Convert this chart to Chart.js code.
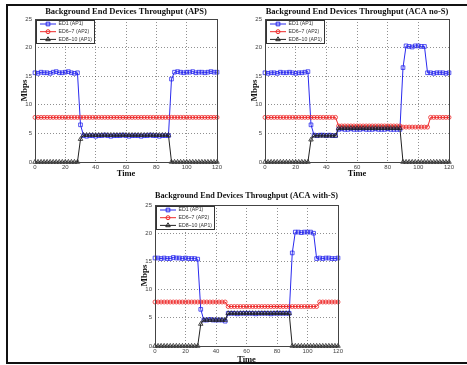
<!DOCTYPE html>
<html>
<head>
<meta charset="utf-8">
<script src="https://cdn.jsdelivr.net/npm/chart.js@4.4.1/dist/chart.umd.min.js"></script>
<style>
  html, body { margin: 0; padding: 0; background: #fff; overflow: hidden; }
  #page { position: relative; width: 467px; height: 365px; }
  #frame {
    position: absolute; left: 6px; top: 4px; width: 461px; height: 360px;
    box-sizing: border-box;
    border-left: 2px solid #111; border-top: 2px solid #111; border-bottom: 2px solid #111;
  }
  canvas { position: absolute; }
</style>
</head>
<body>
<div id="page">
  <div id="frame"></div>
  <canvas id="aps" width="224" height="174" style="left:8px;top:6px"></canvas>
  <canvas id="nos" width="224" height="174" style="left:238px;top:6px"></canvas>
  <canvas id="wis" width="224" height="178" style="left:128px;top:186px"></canvas>
</div>
<script>
// time axis (s)
const TIME = [0, 2, 4, 6, 8, 10, 12, 14, 16, 18, 20, 22, 24, 26, 28, 30, 32, 34, 36, 38,
  40, 42, 44, 46, 48, 50, 52, 54, 56, 58, 60, 62, 64, 66, 68, 70, 72, 74, 76, 78,
  80, 82, 84, 86, 88, 90, 92, 94, 96, 98, 100, 102, 104, 106, 108, 110, 112, 114, 116, 118, 120];

const LABELS = ["ED1 (AP1)", "ED6~7 (AP2)", "ED8~10 (AP1)"];
const X_TICKS = [0, 20, 40, 60, 80, 100, 120];
const Y_TICKS = [0, 5, 10, 15, 20, 25];

// APS
const APS_ED1 = [15.6, 15.5, 15.7, 15.6, 15.6, 15.5, 15.7, 15.8, 15.6, 15.6, 15.7, 15.8, 15.6, 15.5, 15.6,
  6.5,
  4.6, 4.5, 4.6, 4.6, 4.5, 4.6, 4.6, 4.7, 4.6, 4.5, 4.6, 4.6, 4.6, 4.7, 4.6, 4.5, 4.6, 4.6, 4.6, 4.5,
  4.6, 4.6, 4.7, 4.6, 4.6, 4.5, 4.6, 4.6, 4.6,
  14.5,
  15.7, 15.8, 15.7, 15.6, 15.7, 15.7, 15.8, 15.6, 15.7, 15.7, 15.6, 15.7, 15.8, 15.7, 15.7];
const APS_ED67 = [7.8, 7.8, 7.8, 7.8, 7.8, 7.8, 7.8, 7.8, 7.8, 7.8,
  7.8, 7.8, 7.8, 7.8, 7.8, 7.8, 7.8, 7.8, 7.8, 7.8,
  7.8, 7.8, 7.8, 7.8, 7.8, 7.8, 7.8, 7.8, 7.8, 7.8,
  7.8, 7.8, 7.8, 7.8, 7.8, 7.8, 7.8, 7.8, 7.8, 7.8,
  7.8, 7.8, 7.8, 7.8, 7.8, 7.8, 7.8, 7.8, 7.8, 7.8,
  7.8, 7.8, 7.8, 7.8, 7.8, 7.8, 7.8, 7.8, 7.8, 7.8, 7.8];
const APS_ED810 = [0, 0, 0, 0, 0, 0, 0, 0, 0, 0, 0, 0, 0, 0, 0,
  4.0,
  4.7, 4.7, 4.7, 4.7, 4.7, 4.7, 4.7, 4.7, 4.7, 4.7, 4.7, 4.7, 4.7, 4.7, 4.7, 4.7, 4.7, 4.7, 4.7, 4.7,
  4.7, 4.7, 4.7, 4.7, 4.7, 4.7, 4.7, 4.7, 4.7,
  0, 0, 0, 0, 0, 0, 0, 0, 0, 0, 0, 0, 0, 0, 0, 0];

// ACA no-S
const NOS_ED1 = [15.6, 15.5, 15.6, 15.6, 15.5, 15.7, 15.6, 15.6, 15.7, 15.6, 15.5, 15.6, 15.6, 15.7, 15.8,
  6.5,
  4.7, 4.6, 4.7, 4.7, 4.6, 4.7, 4.6, 4.6,
  5.7, 5.8, 5.7, 5.7, 5.8, 5.7, 5.7, 5.7, 5.8, 5.7, 5.7, 5.7, 5.8, 5.7, 5.7, 5.7, 5.8, 5.7, 5.7, 5.7, 5.7,
  16.5,
  20.3, 20.2, 20.1, 20.3, 20.3, 20.2, 20.2,
  15.6, 15.6, 15.5, 15.6, 15.6, 15.6, 15.5, 15.6];
const NOS_ED67 = [7.8, 7.8, 7.8, 7.8, 7.8, 7.8, 7.8, 7.8, 7.8, 7.8, 7.8, 7.8,
  7.8, 7.8, 7.8, 7.8, 7.8, 7.8, 7.8, 7.8, 7.8, 7.8, 7.8, 7.8,
  6.3, 6.3, 6.3, 6.3, 6.3, 6.3, 6.3, 6.3, 6.3, 6.3, 6.3, 6.3, 6.3, 6.3, 6.3, 6.3, 6.3, 6.3, 6.3, 6.3, 6.3,
  6.1, 6.1, 6.1, 6.1, 6.1, 6.1, 6.1, 6.1, 6.1,
  7.8, 7.8, 7.8, 7.8, 7.8, 7.8, 7.8];
const NOS_ED810 = [0, 0, 0, 0, 0, 0, 0, 0, 0, 0, 0, 0, 0, 0, 0,
  3.9,
  4.6, 4.6, 4.6, 4.6, 4.6, 4.6, 4.6, 4.6,
  5.9, 5.9, 5.9, 5.9, 5.9, 5.9, 5.9, 5.9, 5.9, 5.9, 5.9, 5.9, 5.9, 5.9, 5.9, 5.9, 5.9, 5.9, 5.9, 5.9, 5.9,
  0, 0, 0, 0, 0, 0, 0, 0, 0, 0, 0, 0, 0, 0, 0, 0];

// ACA with-S
const WIS_ED1 = [15.6, 15.6, 15.5, 15.6, 15.5, 15.5, 15.7, 15.6, 15.6, 15.5, 15.6, 15.5, 15.5, 15.5, 15.4,
  6.5,
  4.6, 4.6, 4.7, 4.6, 4.6, 4.6, 4.6, 4.4,
  5.8, 5.8, 5.8, 5.7, 5.8, 5.8, 5.8, 5.8, 5.8, 5.7, 5.8, 5.8, 5.8, 5.8, 5.7, 5.8, 5.8, 5.8, 5.8, 5.8, 5.8,
  16.5,
  20.2, 20.2, 20.1, 20.2, 20.2, 20.2, 20.0,
  15.5, 15.6, 15.5, 15.6, 15.6, 15.5, 15.5, 15.6];
const WIS_ED67 = [7.8, 7.8, 7.8, 7.8, 7.8, 7.8, 7.8, 7.8, 7.8, 7.8, 7.8, 7.8,
  7.8, 7.8, 7.8, 7.8, 7.8, 7.8, 7.8, 7.8, 7.8, 7.8, 7.8, 7.8,
  7.0, 7.0, 7.0, 7.0, 7.0, 7.0, 7.0, 7.0, 7.0, 7.0, 7.0, 7.0, 7.0, 7.0, 7.0,
  7.0, 7.0, 7.0, 7.0, 7.0, 7.0, 7.0, 7.0, 7.0, 7.0, 7.0, 7.0, 7.0, 7.0, 7.0,
  7.8, 7.8, 7.8, 7.8, 7.8, 7.8, 7.8];
const WIS_ED810 = [0, 0, 0, 0, 0, 0, 0, 0, 0, 0, 0, 0, 0, 0, 0,
  3.9,
  4.6, 4.6, 4.6, 4.6, 4.6, 4.6, 4.6, 4.6,
  5.8, 5.8, 5.8, 5.8, 5.8, 5.8, 5.8, 5.8, 5.8, 5.8, 5.8, 5.8, 5.8, 5.8, 5.8, 5.8, 5.8, 5.8, 5.8, 5.8, 5.8,
  0, 0, 0, 0, 0, 0, 0, 0, 0, 0, 0, 0, 0, 0, 0, 0];

function drawMarker(ctx, style, x, y, r) {
  ctx.beginPath();
  if (style === 'rect') {
    const s = r * Math.SQRT1_2;
    ctx.rect(x - s, y - s, 2 * s, 2 * s);
  } else if (style === 'triangle') {
    ctx.moveTo(x, y - r);
    ctx.lineTo(x + r * 0.866, y + r * 0.5);
    ctx.lineTo(x - r * 0.866, y + r * 0.5);
    ctx.closePath();
  } else {
    ctx.arc(x, y, r, 0, Math.PI * 2);
  }
  ctx.stroke();
}

// matlab style axes box + legend in the top left corner
const matlabBox = {
  id: 'matlabBox',
  afterDraw(chart) {
    const { ctx, chartArea: a } = chart;
    ctx.save();
    ctx.strokeStyle = '#444';
    ctx.lineWidth = 1;
    ctx.strokeRect(Math.round(a.left) + 0.5, Math.round(a.top) + 0.5,
      Math.round(a.right - a.left), Math.round(a.bottom - a.top));

    const x = Math.round(a.left) + 1, y = Math.round(a.top) + 1, w = 58, h = 23;
    ctx.fillStyle = '#fff';
    ctx.fillRect(x, y, w, h);
    ctx.strokeStyle = '#333';
    ctx.strokeRect(x + 0.5, y + 0.5, w, h);
    ctx.font = '5.2px "Liberation Sans", Arial, sans-serif';
    ctx.textBaseline = 'middle';
    chart.data.datasets.forEach((ds, i) => {
      const ry = y + 4 + i * 7.7;
      ctx.strokeStyle = ds.borderColor;
      ctx.lineWidth = 1;
      ctx.beginPath();
      ctx.moveTo(x + 4, ry);
      ctx.lineTo(x + 20, ry);
      ctx.stroke();
      drawMarker(ctx, ds.pointStyle, x + 12, ry, ds.pointRadius);
      ctx.fillStyle = '#333';
      ctx.fillText(ds.label, x + 22.5, ry);
    });
    ctx.restore();
  }
};

function makeChart(id, title, ed1, ed67, ed810, lay) {
  const series = [
    { data: ed1, color: '#2a2aee', style: 'rect', r: 2.6, order: 3 },
    { data: ed67, color: '#ee2a2a', style: 'circle', r: 2, order: 2 },
    { data: ed810, color: '#222222', style: 'triangle', r: 2.6, order: 1 }
  ];
  new Chart(document.getElementById(id), {
    type: 'line',
    data: {
      datasets: series.map((s, i) => ({
        label: LABELS[i],
        data: TIME.map((t, k) => ({ x: t, y: s.data[k] })),
        borderColor: s.color,
        borderWidth: 1,
        pointStyle: s.style,
        pointRadius: s.r,
        pointBorderWidth: 0.8,
        pointBorderColor: s.color,
        pointBackgroundColor: 'rgba(0,0,0,0)',
        tension: 0,
        order: s.order,
        clip: false
      }))
    },
    options: {
      responsive: false,
      animation: false,
      layout: { padding: { right: lay.right } },
      plugins: {
        legend: { display: false },
        tooltip: { enabled: false },
        title: {
          display: true,
          text: title,
          fullSize: false,
          color: '#111',
          font: { family: '"Liberation Serif", "Times New Roman", serif', size: 8.5, weight: 'bold', lineHeight: 1.2 },
          padding: { top: lay.titleTop, bottom: lay.titleBottom }
        }
      },
      scales: {
        x: {
          type: 'linear',
          min: 0, max: 120,
          afterBuildTicks: s => { s.ticks = X_TICKS.map(v => ({ value: v })); },
          afterFit: s => { s.height = lay.xh; },
          ticks: { color: '#444', padding: 2, maxRotation: 0,
            callback: v => String(v),
            font: { family: '"Liberation Sans", Arial, sans-serif', size: 6 } },
          grid: { color: 'rgba(0,0,0,0.55)', lineWidth: 0.8, drawTicks: false },
          border: { display: false, dash: [1, 2] },
          title: {
            display: true, text: 'Time', color: '#111',
            font: { family: '"Liberation Serif", "Times New Roman", serif', size: 8.5, weight: 'bold', lineHeight: 1 },
            padding: { top: 0, bottom: lay.timePad }
          }
        },
        y: {
          min: 0, max: 25,
          afterBuildTicks: s => { s.ticks = Y_TICKS.map(v => ({ value: v })); },
          afterFit: s => { s.width = 27; },
          ticks: { color: '#444', padding: 3,
            callback: v => String(v),
            font: { family: '"Liberation Sans", Arial, sans-serif', size: 6 } },
          grid: { color: 'rgba(0,0,0,0.55)', lineWidth: 0.8, drawTicks: false },
          border: { display: false, dash: [1, 2] },
          title: {
            display: true, text: 'Mbps', color: '#111',
            font: { family: '"Liberation Serif", "Times New Roman", serif', size: 9, weight: 'bold', lineHeight: 1.2 },
            padding: { top: 11.5, bottom: 0 }
          }
        }
      }
    },
    plugins: [matlabBox]
  });
}

makeChart('aps', 'Background End Devices Throughput (APS)', APS_ED1, APS_ED67, APS_ED810,
  { right: 15, titleTop: 1, titleBottom: 1.8, xh: 18, timePad: 2 });
makeChart('nos', 'Background End Devices Throughput (ACA no-S)', NOS_ED1, NOS_ED67, NOS_ED810,
  { right: 13, titleTop: 1, titleBottom: 1.8, xh: 18, timePad: 2 });
makeChart('wis', 'Background End Devices Throughput (ACA with-S)', WIS_ED1, WIS_ED67, WIS_ED810,
  { right: 14, titleTop: 4.9, titleBottom: 3.9, xh: 18, timePad: 0 });
</script>
</body>
</html>
